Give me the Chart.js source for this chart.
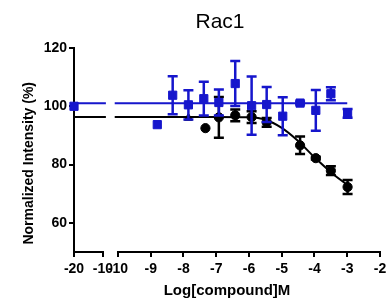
<!DOCTYPE html>
<html>
<head>
<meta charset="utf-8">
<script src="https://cdn.jsdelivr.net/npm/chart.js@4/dist/chart.umd.min.js"></script>
<style>
html, body { margin: 0; padding: 0; background: #fff; }
</style>
</head>
<body>
<canvas id="chart" width="391" height="306"></canvas>
<script>
// values: log molar concentration vs % of control
const blueX   = [-20, -8.8, -8.33, -7.85, -7.38, -6.92, -6.42, -5.92, -5.46, -4.97, -4.44, -3.96, -3.5, -2.99];
const blueY   = [100, 93.7, 103.8, 100.5, 102.6, 101.3, 107.8, 100.2, 100.6, 96.6, 101.1, 98.6, 104.3, 97.6];
const blueErr = [0, 0, 6.5, 5, 5.8, 4.5, 7.7, 10, 6, 6.5, 0.5, 7, 2.2, 1.5];

const blackX   = [-7.85, -7.33, -6.92, -6.42, -5.92, -5.46, -4.44, -3.96, -3.5, -2.99];
const blackY   = [96, 92.5, 96.2, 96.9, 96.3, 94.5, 86.6, 82.2, 77.9, 72.3];
const blackErr = [0, 0, 7, 2, 2, 1.5, 3, 0.5, 1.5, 2.4];

// fitted curves
const blueFitX  = [-20, -9, -10.1, -3];
const blueFitY  = [101, 101, 101, 101];
const blackFitX = [-20, -9, -10.1, -7, -6, -5.5, -5, -4.5, -4, -3.5, -3];
const blackFitY = [96.3, 96.3, 96.3, 96.3, 96.2, 95.4, 92.6, 88.1, 82.5, 77.4, 73];

const stubTicks = [-20, -10];
const mainTicks = [-10, -9, -8, -7, -6, -5, -4, -3, -2];
const yTicks = [60, 80, 100, 120];

const BLUE = '#1616cc';
const FONT = 'Arial, "Liberation Sans", sans-serif';

// broken x axis: -20..-10 is squeezed into a short stub left of the -10..-2 range
const STUB_UNITS = 0.885, GAP_UNITS = 0.458;
function toAxis(x, stub) {
    if (stub) return -10 - GAP_UNITS - STUB_UNITS * (-10 - x) / 10;
    return x;
}

const xTickValues = stubTicks.map(t => toAxis(t, true)).concat(mainTicks);
const xTickLabels = stubTicks.concat(mainTicks).map(String);

function points(xs, ys) {
    return xs.map((x, i) => ({ x: toAxis(x, x < -10), y: ys[i] }));
}

// the two pieces of a fit: first two points on the stub, the rest on the main range
function fitPoints(xs, ys) {
    const out = xs.map((x, i) => ({ x: toAxis(x, i < 2), y: ys[i] }));
    out.splice(2, 0, { x: toAxis(-10, true) + 0.2, y: null });
    return out;
}

const errorBars = {
    id: 'errorBars',
    afterDatasetDraw(chart, args) {
        const ds = chart.data.datasets[args.index];
        if (!ds.errors) return;
        const y = chart.scales.y;
        const ctx = chart.ctx;
        ctx.save();
        ctx.strokeStyle = ds.borderColor;
        ctx.lineWidth = 2.5;
        args.meta.data.forEach((pt, i) => {
            const e = ds.errors[i];
            if (!e) return;
            const v = ds.data[i].y;
            const top = y.getPixelForValue(v + e);
            const bot = y.getPixelForValue(v - e);
            ctx.beginPath();
            ctx.moveTo(pt.x, top); ctx.lineTo(pt.x, bot);
            ctx.moveTo(pt.x - 5, top); ctx.lineTo(pt.x + 5, top);
            ctx.moveTo(pt.x - 5, bot); ctx.lineTo(pt.x + 5, bot);
            ctx.stroke();
        });
        ctx.restore();
    }
};

const brokenAxis = {
    id: 'brokenAxis',
    beforeDatasetsDraw(chart) {
        const x = chart.scales.x;
        const yb = chart.chartArea.bottom;
        const ctx = chart.ctx;
        ctx.save();
        ctx.strokeStyle = '#000';
        ctx.lineWidth = 2;
        ctx.beginPath();
        ctx.moveTo(x.getPixelForValue(toAxis(-20, true)) - 1, yb);
        ctx.lineTo(x.getPixelForValue(toAxis(-10, true)) + 1, yb);
        ctx.moveTo(x.getPixelForValue(-10) - 1, yb);
        ctx.lineTo(x.getPixelForValue(-2) + 1, yb);
        ctx.stroke();
        ctx.restore();
    }
};

const texts = {
    id: 'texts',
    afterDraw(chart) {
        const ctx = chart.ctx;
        const area = chart.chartArea;
        ctx.save();
        ctx.fillStyle = '#000';
        ctx.font = '21px ' + FONT;
        ctx.textAlign = 'center';
        ctx.textBaseline = 'alphabetic';
        ctx.fillText('Rac1', (area.left + area.right) / 2 - 7, 28);

        ctx.translate(33, area.top + (area.bottom - area.top) * 0.565);
        ctx.rotate(-Math.PI / 2);
        ctx.font = 'bold 14px ' + FONT;
        ctx.fillText('Normalized Intensity (%)', 0, 0);
        ctx.restore();
    }
};

const tickFont = { family: FONT, size: 14, weight: 'bold' };

new Chart(document.getElementById('chart'), {
    type: 'scatter',
    data: {
        datasets: [
            {
                label: 'Rac1 blue',
                data: points(blueX, blueY),
                errors: blueErr,
                borderColor: BLUE,
                backgroundColor: BLUE,
                pointStyle: 'rect',
                pointRadius: 5.8,
                showLine: false,
                clip: false
            },
            {
                label: 'Rac1 blue fit',
                data: fitPoints(blueFitX, blueFitY),
                borderColor: BLUE,
                borderWidth: 2,
                pointRadius: 0,
                showLine: true,
                spanGaps: false,
                clip: false
            },
            {
                label: 'Rac1 black',
                data: points(blackX, blackY),
                errors: blackErr,
                borderColor: '#000',
                backgroundColor: '#000',
                pointStyle: blackX.map((x, i) => i === 0 ? 'triangle' : 'circle'),
                pointRadius: 4.6,
                showLine: false,
                clip: false
            },
            {
                label: 'Rac1 black fit',
                data: fitPoints(blackFitX, blackFitY),
                borderColor: '#000',
                borderWidth: 2,
                pointRadius: 0,
                showLine: true,
                spanGaps: false,
                cubicInterpolationMode: 'monotone',
                clip: false
            }
        ]
    },
    options: {
        responsive: false,
        animation: false,
        layout: { padding: { top: 48, right: 11, left: 0, bottom: 0 } },
        plugins: {
            legend: { display: false },
            tooltip: { enabled: false },
            title: { display: false }
        },
        scales: {
            x: {
                type: 'linear',
                min: toAxis(-20, true),
                max: -2,
                afterBuildTicks: s => { s.ticks = xTickValues.map(v => ({ value: v })); },
                afterFit: s => { s.height = 54; },
                grid: { drawOnChartArea: false, color: '#000', lineWidth: 2, tickLength: 5 },
                border: { display: false },
                ticks: {
                    autoSkip: false, maxRotation: 0, minRotation: 0, padding: 4,
                    color: '#000', font: tickFont,
                    callback: (v, i) => xTickLabels[i]
                },
                title: {
                    display: true, text: 'Log[compound]M', color: '#000',
                    font: { family: FONT, size: 15, weight: 'bold' },
                    padding: { top: 0, bottom: 6 }
                }
            },
            y: {
                min: 50,
                max: 120,
                afterBuildTicks: s => { s.ticks = yTicks.map(v => ({ value: v })); },
                afterFit: s => { s.width = 74; },
                grid: { drawOnChartArea: false, color: '#000', lineWidth: 2, tickLength: 5 },
                border: { display: true, color: '#000', width: 2 },
                ticks: { padding: 2, color: '#000', font: tickFont }
            }
        }
    },
    plugins: [errorBars, brokenAxis, texts]
});
</script>
</body>
</html>
